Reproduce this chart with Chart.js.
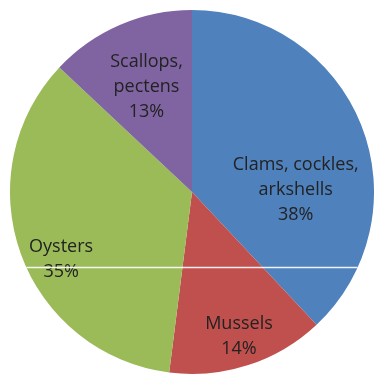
<!DOCTYPE html>
<html>
<head>
<meta charset="utf-8">
<script src="https://cdn.jsdelivr.net/npm/chart.js@4/dist/chart.umd.min.js"></script>
<style>
  html, body { margin: 0; padding: 0; background: #fff; overflow: hidden; }
  #wrap { position: relative; width: 374px; height: 378px; }
</style>
</head>
<body>
<div id="wrap"><canvas id="chart"></canvas></div>
<script>
let categories = ["Clams, cockles, arkshells", "Mussels", "Oysters", "Scallops, pectens"];
let labelLines = [["Clams, cockles,", "arkshells"], ["Mussels"], ["Oysters"], ["Scallops,", "pectens"]];
let shares = [38, 14, 35, 13];
let colors = ["#4F81BD", "#C0504D", "#9BBB59", "#8064A2"];

// where each label sits inside its slice (fraction of radius, turn in degrees)
let labelRadius = [0.57, 0.835, 0.81, 0.63];
let labelTurn = [20.5, 0, -7.6, 0];

const sliceLabels = {
    id: "sliceLabels",
    afterDatasetsDraw(chart) {
        let ctx = chart.ctx;
        let meta = chart.getDatasetMeta(0);
        let total = shares.reduce((a, b) => a + b, 0);
        ctx.save();
        ctx.font = "18px 'Open Sans', sans-serif";
        ctx.fillStyle = "#222222";
        ctx.textAlign = "center";
        ctx.textBaseline = "middle";
        meta.data.forEach(function (arc, i) {
            let p = arc.getProps(["x", "y", "startAngle", "endAngle", "outerRadius"], true);
            let mid = (p.startAngle + p.endAngle) / 2 + labelTurn[i] * Math.PI / 180;
            let cx = p.x + Math.cos(mid) * p.outerRadius * labelRadius[i];
            let cy = p.y + Math.sin(mid) * p.outerRadius * labelRadius[i];
            let lines = labelLines[i].concat([Math.round(shares[i] / total * 100) + "%"]);
            let lh = 25;
            let top = cy - (lines.length - 1) * lh / 2;
            lines.forEach(function (t, k) {
                ctx.fillText(t, cx, top + k * lh);
            });
        });

        // faint white scan line across the pie, as in the source image
        let a = meta.data[0].getProps(["x", "y", "outerRadius"], true);
        let ly = a.y + a.outerRadius * 0.415;
        let half = Math.sqrt(a.outerRadius * a.outerRadius - (ly - a.y) * (ly - a.y));
        ctx.strokeStyle = "rgba(255,255,255,0.9)";
        ctx.lineWidth = 1.5;
        ctx.beginPath();
        ctx.moveTo(a.x - half, ly);
        ctx.lineTo(a.x + half, ly);
        ctx.stroke();
        ctx.restore();
    }
};

new Chart(document.getElementById("chart"), {
    type: "pie",
    data: {
        labels: categories,
        datasets: [{
            data: shares,
            backgroundColor: colors,
            borderWidth: 0
        }]
    },
    options: {
        responsive: true,
        maintainAspectRatio: false,
        animation: false,
        layout: { padding: { left: 10, top: 10, right: 0, bottom: 4 } },
        plugins: {
            legend: { display: false },
            tooltip: { enabled: false }
        }
    },
    plugins: [sliceLabels]
});
</script>
</body>
</html>
